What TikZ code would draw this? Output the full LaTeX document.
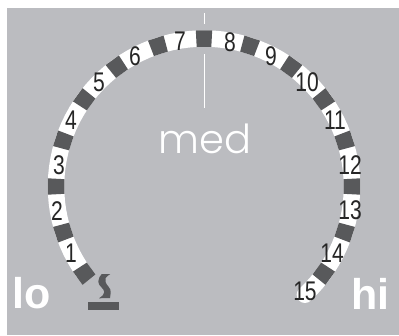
\documentclass[tikz,border=0pt]{standalone}
\usepackage{fontspec}
\setsansfont{Liberation Sans}
\newfontfamily\medfont{Poppins Light}
\definecolor{panelgray}{HTML}{BBBCC0}
\definecolor{blockgray}{HTML}{58595B}
\tikzset{
	tick label/.style={font=\sffamily\fontsize{27}{27}\selectfont, text=black!85, xscale=.78, transform shape, inner sep=0pt},
	end label/.style={font=\sffamily\bfseries\fontsize{43}{43}\selectfont, text=white, inner sep=0pt, anchor=base west},
}
\begin{document}
\begin{tikzpicture}[x=1pt,y=-1pt]
	\useasboundingbox (0,0) rectangle (399,335);
	\fill[white] (0,0) rectangle (399,335);
	\fill[panelgray] (6.5,8) rectangle (399,335);
	\draw[white, line width=1pt] (204,13) -- (204,24);
	\draw[white, line width=1pt] (204,54) -- (204,108);
	%band, round at the hi end
	\draw[white, line width=16.5pt] plot[domain=-47:216, samples=80] ({204+148*cos(\x)},{186.5-148*sin(\x)});
	\fill[white] ({204+148*cos(-47)},{186.5-148*sin(-47)}) circle (8.25);
	\foreach \a in {216,198,...,-36}{
		\fill[blockgray] ({204+139.75*cos(\a-3)},{186.5-139.75*sin(\a-3)}) -- ({204+156.25*cos(\a-3)},{186.5-156.25*sin(\a-3)}) -- ({204+156.25*cos(\a+3)},{186.5-156.25*sin(\a+3)}) -- ({204+139.75*cos(\a+3)},{186.5-139.75*sin(\a+3)}) -- cycle;
	}
	\foreach \n/\x/\y in {1/71/253,2/57/211,3/59/165,4/71/120,5/99/82,6/135/56,7/180/41,8/230/42,9/271/56,10/307/82,11/335/120,12/350/165,13/350/210,14/332/253,15/305/291}{
		\node[tick label] (n\n) at (\x,\y) {\n};
	}
	\node[font=\medfont\fontsize{40}{40}\selectfont, text=white, inner sep=0pt, anchor=base] (med) at (205,153) {med};
	\node[end label] (lo) at (12,308) {lo};
	\node[end label] (hi) at (351,309) {hi};
	%burner mark
	\fill[blockgray] (88,302) rectangle (119,310);
	\fill[blockgray] (101.7,274) -- (110.3,274) .. controls (105.5,277) and (104.5,279) .. (105.5,282) .. controls (107,286) and (111,288) .. (110.7,292) .. controls (110.6,295) and (110.3,296) .. (110,298) -- (99,298.3) .. controls (102,296) and (104.5,294.5) .. (104.3,292) .. controls (104,288) and (98,286) .. (98.3,281.5) .. controls (98.4,278) and (100,276) .. cycle;
\end{tikzpicture}
\end{document}
